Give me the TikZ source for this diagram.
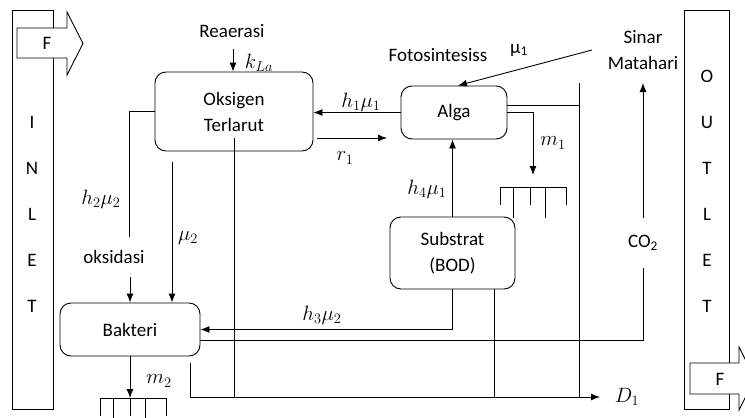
\documentclass[tikz,border=0pt]{standalone}
\usepackage[no-math]{fontspec}
\setmainfont{Carlito}
\usetikzlibrary{arrows.meta}

\begin{document}
\begin{tikzpicture}[x=1pt,y=-1pt,line width=0.9pt,>={Latex[length=9pt,width=7pt]},
  every node/.style={font=\fontsize{19}{26}\selectfont},
  lambang/.style={font=\fontsize{21}{26}\selectfont},
  kotak/.style={draw,rounded corners=11pt,fill=white,align=center,inner sep=0pt}]
\useasboundingbox (0,0) rectangle (745,418);
\draw (12,10) rectangle (53,409);
\draw[fill=white] (17,28) -- (67,28) -- (67,12) -- (83,43.5) -- (67,75) -- (67,58) -- (17,58) -- cycle;
\node (fin) at (47,43) {F};
\foreach \huruf/\y in {I/122,N/168,L/214,E/260,T/306}
  \node (in\huruf) at (32,\y) {\huruf};
\draw (684,10) rectangle (729,409);
\draw[fill=white] (690,363) -- (739,363) -- (739,347) -- (755,378.5) -- (739,410) -- (739,394) -- (690,394) -- cycle;
\node (fout) at (720,379) {F};
\foreach \huruf [count=\i] in {O,U,T,L,E,T}
  \node (out\i) at (707,30+46*\i) {\huruf};
\node (rea) at (232,31) {Reaerasi};
\node[lambang] (kla) at (259,63) {$k_{La}$};
\node[kotak,minimum width=158,minimum height=79] (oks) at (234,111.5) {Oksigen\\Terlarut};
\node[kotak,minimum width=106,minimum height=53] (alga) at (454,112.5) {Alga};
\node[kotak,minimum width=125,minimum height=72] (sub) at (452.5,253) {Substrat\\(BOD)};
\node[kotak,minimum width=140,minimum height=53] (bak) at (130,329.5) {Bakteri};
\node (foto) at (438,55) {Fotosintesiss};
\node (mu1) at (519,50) {μ\textsubscript{1}};
\node[align=center] (sinar) at (643,50) {Sinar\\Matahari};
\node[lambang] (h1m1) at (361,102) {$h_1\mu_1$};
\node[lambang] (r1) at (345,158) {$r_1$};
\node[lambang] (h4m1) at (427,189) {$h_4\mu_1$};
\node[lambang] (m1) at (553,143) {$m_1$};
\node[lambang] (h2m2) at (101,199) {$h_2\mu_2$};
\node (oksi) at (114,257) {oksidasi};
\node[lambang] (mu2) at (188,238) {$\mu_2$};
\node[lambang] (h3m2) at (322,315) {$h_3\mu_2$};
\node[lambang] (m2) at (159,381) {$m_2$};
\node[lambang] (d1) at (627,397) {$D_1$};
\node[inner sep=0pt,minimum height=50] (co2) at (643,243) {CO\textsubscript{2}};
\coordinate (reaUjung) at (233,49);
\coordinate (r1a) at (317,138);
\coordinate (r1b) at (387,138);
\coordinate (surya) at (592,50);
\coordinate (kiriA) at (129,237);
\coordinate (kiriB) at (130,277);
\coordinate (tengahA) at (172,162);
\coordinate (batasAtas) at (579,83);
\coordinate (dAwal) at (190,363);
\coordinate (dUjung) at (600,397);
\coordinate (endap1) at (533,175);
\coordinate (endap2) at (130,398);
\draw[->] (reaUjung) -- (reaUjung |- oks.north);
\draw[->] (alga.west) -- (alga.west -| oks.east);
\draw[->] (r1a) -- (r1b);
\draw[->] (surya) -- ([xshift=4]alga.north);
\draw (oks.west) -| (kiriA);
\draw[->] (kiriB) -- (kiriB |- bak.north);
\draw[->] (tengahA) -- (tengahA |- bak.north);
\draw[->] (sub.north) -- (sub.north |- alga.south);
\draw[->] (sub.south) |- (bak.east);
\draw ([yshift=7.5]alga.east) -- ([yshift=7.5]alga.east -| batasAtas);
\draw[->] (alga.east) -| (endap1);
\draw (500,187) -- (566,187);
\foreach \x/\d in {500/18,513/31,530/18,545/31,566/18}
  \draw (\x,187) -- ++(0,\d);
\draw (batasAtas) -- (batasAtas |- dUjung);
\draw ([yshift=-26.5]oks.center) -- (oks.center |- dUjung);
\draw ([xshift=41.5]sub.south) -- ([xshift=41.5]sub.south |- dUjung);
\draw[->] (dAwal) |- (dUjung);
\draw ([yshift=-10.5]bak.east) -| (co2.south);
\draw[->] (co2.north) -- (co2.north |- batasAtas);
\draw[->] (bak.south) -- (endap2);
\draw (100,398) -- (166,398);
\foreach \x/\d in {100/18,113/31,130/18,145/31,166/18}
  \draw (\x,398) -- ++(0,\d);
\end{tikzpicture}
\end{document}
